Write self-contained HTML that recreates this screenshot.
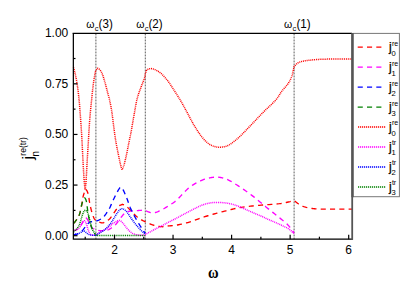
<!DOCTYPE html>
<html><head><meta charset="utf-8"><title>plot</title>
<style>html,body{margin:0;padding:0;background:#fff;width:409px;height:287px;overflow:hidden}body{position:relative;font-family:"Liberation Sans",sans-serif}</style>
</head><body>
<svg width="409" height="287" viewBox="0 0 409 287" style="display:block;position:absolute;left:0;top:0" font-family="'Liberation Sans', sans-serif">
<rect width="409" height="287" fill="#fff"/>
<line x1="95.9" y1="33.5" x2="95.9" y2="239.2" stroke="#333" stroke-width="0.8" stroke-dasharray="1.9 1.1"/>
<line x1="145.3" y1="33.5" x2="145.3" y2="239.2" stroke="#333" stroke-width="0.8" stroke-dasharray="1.9 1.1"/>
<line x1="294.1" y1="33.5" x2="294.1" y2="239.2" stroke="#333" stroke-width="0.8" stroke-dasharray="1.9 1.1"/>
<path d="M73.50 223.00 L73.65 222.92 L73.78 222.90 L73.89 222.90 L74.01 222.89 L74.16 222.84 L74.34 222.69 L74.58 222.43 L74.90 222.00 L75.32 221.40 L75.84 220.66 L76.42 219.81 L77.04 218.86 L77.67 217.85 L78.28 216.81 L78.83 215.75 L79.30 214.70 L79.69 213.64 L80.04 212.54 L80.35 211.39 L80.62 210.22 L80.88 209.04 L81.12 207.85 L81.36 206.67 L81.60 205.50 L81.83 204.33 L82.03 203.13 L82.22 201.93 L82.39 200.72 L82.57 199.54 L82.76 198.38 L82.97 197.26 L83.20 196.20 L83.46 195.20 L83.74 194.25 L84.04 193.35 L84.35 192.47 L84.66 191.61 L84.98 190.75 L85.29 189.89 L85.60 189.00 L85.80 189.27 L86.00 189.53 L86.21 189.77 L86.41 190.02 L86.61 190.28 L86.81 190.58 L87.01 190.91 L87.20 191.30 L87.39 191.73 L87.57 192.20 L87.76 192.69 L87.94 193.22 L88.11 193.78 L88.28 194.38 L88.45 195.02 L88.60 195.70 L88.74 196.42 L88.85 197.18 L88.96 197.99 L89.06 198.82 L89.17 199.70 L89.29 200.60 L89.43 201.54 L89.60 202.50 L89.80 203.52 L90.02 204.61 L90.26 205.74 L90.51 206.90 L90.78 208.06 L91.05 209.19 L91.32 210.28 L91.60 211.30 L91.88 212.28 L92.18 213.24 L92.49 214.19 L92.80 215.10 L93.11 215.96 L93.42 216.76 L93.72 217.47 L94.00 218.10 L94.27 218.62 L94.53 219.04 L94.77 219.37 L95.02 219.65 L95.26 219.88 L95.50 220.09 L95.75 220.29 L96.00 220.50 L96.24 220.71 L96.47 220.88 L96.68 221.04 L96.91 221.18 L97.15 221.30 L97.42 221.43 L97.73 221.56 L98.10 221.70 L98.54 221.87 L99.04 222.06 L99.58 222.26 L100.16 222.46 L100.74 222.64 L101.32 222.78 L101.88 222.87 L102.40 222.90 L102.88 222.86 L103.33 222.78 L103.77 222.66 L104.19 222.49 L104.62 222.29 L105.06 222.06 L105.52 221.79 L106.00 221.50 L106.50 221.19 L107.02 220.88 L107.54 220.54 L108.08 220.16 L108.63 219.73 L109.20 219.24 L109.79 218.67 L110.40 218.00 L111.05 217.19 L111.75 216.22 L112.49 215.15 L113.23 214.03 L113.96 212.90 L114.67 211.82 L115.32 210.84 L115.90 210.00 L116.40 209.29 L116.83 208.66 L117.22 208.11 L117.57 207.61 L117.91 207.16 L118.25 206.74 L118.60 206.36 L119.00 206.00 L119.43 205.68 L119.86 205.41 L120.31 205.19 L120.77 205.01 L121.23 204.84 L121.69 204.67 L122.15 204.50 L122.60 204.30 L123.02 204.50 L123.44 204.68 L123.85 204.85 L124.26 205.02 L124.68 205.21 L125.11 205.43 L125.55 205.69 L126.00 206.00 L126.46 206.36 L126.91 206.75 L127.37 207.17 L127.84 207.62 L128.33 208.11 L128.85 208.63 L129.40 209.20 L130.00 209.80 L130.66 210.48 L131.39 211.24 L132.15 212.07 L132.94 212.92 L133.74 213.77 L134.53 214.58 L135.29 215.34 L136.00 216.00 L136.67 216.57 L137.31 217.09 L137.94 217.56 L138.55 217.99 L139.15 218.39 L139.74 218.77 L140.32 219.14 L140.90 219.50 L141.45 219.84 L141.96 220.14 L142.44 220.41 L142.92 220.67 L143.42 220.92 L143.97 221.19 L144.59 221.48 L145.30 221.80 L146.11 222.17 L146.99 222.57 L147.94 223.00 L148.94 223.44 L149.97 223.87 L151.01 224.28 L152.06 224.67 L153.10 225.00 L154.15 225.30 L155.25 225.59 L156.38 225.85 L157.51 226.09 L158.62 226.30 L159.71 226.48 L160.74 226.61 L161.70 226.70 L162.56 226.73 L163.32 226.70 L164.03 226.63 L164.70 226.52 L165.38 226.39 L166.10 226.25 L166.90 226.12 L167.80 226.00 L168.80 225.90 L169.85 225.82 L170.96 225.73 L172.12 225.64 L173.32 225.53 L174.58 225.39 L175.87 225.22 L177.20 225.00 L178.59 224.74 L180.05 224.44 L181.57 224.12 L183.12 223.76 L184.69 223.38 L186.28 222.97 L187.85 222.55 L189.40 222.10 L190.93 221.62 L192.47 221.09 L194.01 220.53 L195.55 219.95 L197.09 219.36 L198.63 218.79 L200.17 218.23 L201.70 217.70 L203.23 217.20 L204.76 216.71 L206.28 216.24 L207.81 215.77 L209.33 215.32 L210.85 214.87 L212.38 214.43 L213.90 214.00 L215.43 213.57 L216.95 213.16 L218.47 212.75 L220.00 212.35 L221.53 211.96 L223.05 211.57 L224.58 211.18 L226.10 210.80 L227.62 210.41 L229.15 210.03 L230.67 209.64 L232.19 209.26 L233.72 208.89 L235.24 208.53 L236.77 208.20 L238.30 207.90 L239.83 207.63 L241.37 207.38 L242.91 207.15 L244.45 206.94 L245.99 206.75 L247.53 206.56 L249.07 206.38 L250.60 206.20 L252.10 206.03 L253.55 205.87 L254.99 205.72 L256.43 205.57 L257.91 205.44 L259.44 205.30 L261.07 205.15 L262.80 205.00 L264.71 204.85 L266.80 204.70 L269.00 204.55 L271.25 204.39 L273.48 204.24 L275.63 204.07 L277.62 203.89 L279.40 203.70 L280.98 203.49 L282.44 203.25 L283.79 203.00 L285.03 202.74 L286.18 202.49 L287.25 202.24 L288.26 202.01 L289.20 201.80 L290.05 201.62 L290.77 201.45 L291.40 201.30 L291.96 201.16 L292.48 201.02 L292.99 200.88 L293.52 200.75 L294.10 200.60 L294.71 201.06 L295.33 201.53 L295.94 202.00 L296.55 202.47 L297.16 202.93 L297.78 203.38 L298.39 203.80 L299.00 204.20 L299.60 204.57 L300.17 204.92 L300.73 205.25 L301.30 205.57 L301.89 205.87 L302.51 206.16 L303.17 206.43 L303.90 206.70 L304.68 206.96 L305.50 207.20 L306.35 207.44 L307.24 207.66 L308.17 207.87 L309.14 208.06 L310.15 208.24 L311.20 208.40 L312.28 208.54 L313.38 208.66 L314.51 208.77 L315.68 208.86 L316.91 208.93 L318.20 209.00 L319.56 209.05 L321.00 209.10 L322.53 209.13 L324.13 209.15 L325.81 209.15 L327.55 209.14 L329.35 209.13 L331.19 209.12 L333.08 209.10 L335.00 209.10 L336.98 209.10 L339.04 209.10 L341.16 209.10 L343.31 209.10 L345.49 209.10 L347.68 209.10 L349.85 209.10 L352.00 209.10" fill="none" stroke="#ff0000" stroke-dasharray="5.1 4.2" stroke-width="1.35"/>
<path d="M73.50 230.40 L73.81 230.36 L74.11 230.34 L74.42 230.32 L74.72 230.30 L75.03 230.27 L75.34 230.21 L75.66 230.13 L76.00 230.00 L76.35 229.84 L76.71 229.67 L77.09 229.48 L77.47 229.26 L77.85 229.00 L78.24 228.71 L78.62 228.38 L79.00 228.00 L79.38 227.55 L79.77 227.04 L80.17 226.47 L80.56 225.88 L80.95 225.26 L81.32 224.65 L81.67 224.06 L82.00 223.50 L82.30 222.96 L82.58 222.41 L82.84 221.86 L83.08 221.32 L83.32 220.80 L83.54 220.32 L83.77 219.88 L84.00 219.50 L84.23 219.16 L84.44 218.86 L84.66 218.58 L84.86 218.35 L85.07 218.16 L85.28 218.02 L85.48 217.93 L85.70 217.90 L85.92 217.93 L86.14 218.02 L86.36 218.16 L86.58 218.35 L86.81 218.58 L87.03 218.86 L87.26 219.16 L87.50 219.50 L87.74 219.89 L87.97 220.33 L88.21 220.82 L88.46 221.35 L88.70 221.89 L88.96 222.44 L89.22 222.98 L89.50 223.50 L89.79 224.01 L90.08 224.55 L90.38 225.09 L90.69 225.62 L91.00 226.15 L91.33 226.64 L91.66 227.10 L92.00 227.50 L92.36 227.86 L92.74 228.18 L93.13 228.47 L93.53 228.73 L93.93 228.96 L94.31 229.17 L94.67 229.35 L95.00 229.50 L95.30 229.62 L95.56 229.68 L95.81 229.72 L96.04 229.72 L96.26 229.73 L96.50 229.73 L96.74 229.75 L97.00 229.80 L97.27 229.88 L97.53 229.98 L97.79 230.10 L98.06 230.22 L98.34 230.34 L98.66 230.44 L99.01 230.53 L99.40 230.60 L99.85 230.64 L100.37 230.66 L100.93 230.67 L101.51 230.66 L102.09 230.65 L102.66 230.63 L103.21 230.62 L103.70 230.60 L104.14 230.59 L104.56 230.60 L104.95 230.60 L105.32 230.60 L105.68 230.59 L106.05 230.55 L106.42 230.49 L106.80 230.40 L107.19 230.28 L107.57 230.13 L107.95 229.96 L108.34 229.76 L108.73 229.55 L109.13 229.32 L109.56 229.07 L110.00 228.80 L110.47 228.51 L110.98 228.21 L111.50 227.88 L112.04 227.53 L112.57 227.17 L113.10 226.79 L113.61 226.40 L114.10 226.00 L114.56 225.58 L115.02 225.14 L115.46 224.68 L115.89 224.21 L116.31 223.73 L116.72 223.25 L117.11 222.77 L117.50 222.30 L117.87 221.84 L118.22 221.37 L118.56 220.91 L118.89 220.44 L119.21 219.98 L119.53 219.52 L119.86 219.06 L120.20 218.60 L120.54 218.14 L120.88 217.68 L121.22 217.22 L121.56 216.76 L121.91 216.30 L122.26 215.86 L122.63 215.42 L123.00 215.00 L123.39 214.58 L123.78 214.16 L124.18 213.73 L124.59 213.32 L125.01 212.94 L125.44 212.58 L125.86 212.27 L126.30 212.00 L126.73 211.79 L127.15 211.64 L127.58 211.52 L128.01 211.44 L128.46 211.37 L128.94 211.32 L129.45 211.27 L130.00 211.20 L130.61 211.13 L131.27 211.07 L131.97 211.02 L132.70 210.97 L133.43 210.93 L134.15 210.89 L134.85 210.85 L135.50 210.80 L136.11 210.75 L136.69 210.69 L137.26 210.64 L137.81 210.58 L138.35 210.53 L138.89 210.48 L139.44 210.44 L140.00 210.40 L140.58 210.36 L141.17 210.32 L141.77 210.27 L142.37 210.24 L142.96 210.21 L143.53 210.21 L144.08 210.24 L144.60 210.30 L145.08 210.40 L145.52 210.55 L145.94 210.72 L146.34 210.92 L146.73 211.12 L147.14 211.33 L147.55 211.52 L148.00 211.70 L148.47 211.87 L148.96 212.06 L149.46 212.24 L149.96 212.43 L150.47 212.59 L150.99 212.73 L151.50 212.84 L152.00 212.90 L152.49 212.92 L152.95 212.92 L153.41 212.89 L153.88 212.84 L154.35 212.75 L154.86 212.63 L155.40 212.48 L156.00 212.30 L156.65 212.08 L157.33 211.83 L158.05 211.55 L158.79 211.24 L159.57 210.89 L160.36 210.52 L161.17 210.12 L162.00 209.70 L162.85 209.24 L163.73 208.75 L164.64 208.22 L165.56 207.66 L166.50 207.09 L167.44 206.50 L168.37 205.90 L169.30 205.30 L170.18 204.74 L171.02 204.23 L171.83 203.74 L172.66 203.22 L173.53 202.63 L174.48 201.95 L175.52 201.11 L176.70 200.10 L178.04 198.83 L179.51 197.32 L181.09 195.64 L182.74 193.87 L184.43 192.08 L186.13 190.36 L187.80 188.77 L189.40 187.40 L190.99 186.21 L192.62 185.12 L194.26 184.12 L195.89 183.20 L197.47 182.36 L198.99 181.61 L200.40 180.92 L201.70 180.30 L202.85 179.77 L203.88 179.35 L204.80 179.02 L205.66 178.76 L206.48 178.55 L207.29 178.36 L208.12 178.19 L209.00 178.00 L209.92 177.81 L210.84 177.63 L211.76 177.48 L212.69 177.35 L213.61 177.24 L214.52 177.17 L215.42 177.12 L216.30 177.10 L217.17 177.12 L218.03 177.17 L218.89 177.24 L219.73 177.35 L220.57 177.48 L221.39 177.63 L222.20 177.81 L223.00 178.00 L223.76 178.20 L224.47 178.40 L225.16 178.61 L225.84 178.86 L226.54 179.13 L227.28 179.46 L228.10 179.85 L229.00 180.30 L229.98 180.82 L231.02 181.40 L232.11 182.03 L233.26 182.71 L234.45 183.44 L235.69 184.22 L236.97 185.04 L238.30 185.90 L239.69 186.81 L241.17 187.79 L242.70 188.82 L244.27 189.89 L245.86 190.99 L247.46 192.12 L249.05 193.26 L250.60 194.40 L252.18 195.60 L253.84 196.90 L255.53 198.25 L257.19 199.60 L258.80 200.91 L260.30 202.15 L261.65 203.26 L262.80 204.20 L263.67 204.91 L264.27 205.41 L264.68 205.77 L265.00 206.05 L265.32 206.33 L265.73 206.69 L266.33 207.19 L267.20 207.90 L268.38 208.86 L269.81 210.01 L271.41 211.29 L273.11 212.65 L274.83 214.03 L276.50 215.37 L278.05 216.61 L279.40 217.70 L280.56 218.63 L281.62 219.46 L282.58 220.21 L283.48 220.91 L284.33 221.59 L285.15 222.28 L285.97 223.01 L286.80 223.80 L287.66 224.69 L288.53 225.66 L289.40 226.66 L290.24 227.68 L291.03 228.67 L291.75 229.59 L292.38 230.41 L292.90 231.10 L293.28 231.63 L293.54 232.04 L293.71 232.36 L293.81 232.61 L293.87 232.82 L293.91 233.01 L293.98 233.23 L294.10 233.50" fill="none" stroke="#ff00ff" stroke-dasharray="5.1 4.2" stroke-width="1.35"/>
<path d="M73.50 234.60 L73.81 234.58 L74.10 234.58 L74.39 234.58 L74.69 234.57 L74.99 234.56 L75.30 234.53 L75.64 234.48 L76.00 234.40 L76.39 234.29 L76.81 234.17 L77.25 234.02 L77.71 233.86 L78.17 233.68 L78.62 233.48 L79.07 233.25 L79.50 233.00 L79.92 232.72 L80.34 232.40 L80.76 232.06 L81.18 231.69 L81.58 231.32 L81.97 230.94 L82.35 230.56 L82.70 230.20 L83.03 229.85 L83.32 229.50 L83.59 229.16 L83.86 228.81 L84.12 228.46 L84.39 228.09 L84.68 227.71 L85.00 227.30 L85.35 226.85 L85.72 226.36 L86.11 225.85 L86.51 225.32 L86.92 224.81 L87.32 224.32 L87.72 223.88 L88.10 223.50 L88.45 223.18 L88.78 222.91 L89.09 222.67 L89.40 222.47 L89.73 222.29 L90.10 222.12 L90.51 221.96 L91.00 221.80 L91.58 221.65 L92.24 221.53 L92.96 221.43 L93.71 221.33 L94.47 221.24 L95.20 221.14 L95.89 221.03 L96.50 220.90 L97.03 220.76 L97.51 220.62 L97.95 220.47 L98.36 220.32 L98.75 220.15 L99.15 219.96 L99.56 219.75 L100.00 219.50 L100.45 219.25 L100.89 219.02 L101.33 218.78 L101.78 218.51 L102.24 218.19 L102.73 217.79 L103.25 217.30 L103.80 216.70 L104.41 215.96 L105.08 215.08 L105.79 214.11 L106.51 213.07 L107.24 211.99 L107.94 210.89 L108.60 209.82 L109.20 208.80 L109.73 207.82 L110.21 206.84 L110.65 205.87 L111.07 204.89 L111.48 203.91 L111.89 202.92 L112.33 201.92 L112.80 200.90 L113.32 199.82 L113.88 198.68 L114.47 197.49 L115.06 196.31 L115.63 195.17 L116.18 194.09 L116.67 193.13 L117.10 192.30 L117.46 191.62 L117.75 191.07 L118.01 190.61 L118.22 190.23 L118.42 189.89 L118.61 189.60 L118.80 189.30 L119.00 189.00 L119.21 188.69 L119.40 188.38 L119.59 188.10 L119.78 187.84 L119.96 187.62 L120.13 187.43 L120.32 187.29 L120.50 187.20 L120.69 187.17 L120.88 187.19 L121.08 187.26 L121.27 187.37 L121.46 187.51 L121.65 187.66 L121.83 187.83 L122.00 188.00 L122.15 188.14 L122.26 188.24 L122.36 188.34 L122.46 188.47 L122.58 188.66 L122.73 188.94 L122.93 189.34 L123.20 189.90 L123.54 190.64 L123.96 191.54 L124.42 192.56 L124.91 193.68 L125.42 194.86 L125.94 196.06 L126.43 197.25 L126.90 198.40 L127.34 199.54 L127.76 200.72 L128.18 201.93 L128.59 203.14 L129.00 204.35 L129.42 205.54 L129.85 206.70 L130.30 207.80 L130.76 208.85 L131.22 209.85 L131.68 210.81 L132.16 211.76 L132.64 212.69 L133.14 213.64 L133.66 214.60 L134.20 215.60 L134.77 216.64 L135.37 217.72 L135.99 218.82 L136.62 219.92 L137.26 221.01 L137.89 222.09 L138.51 223.12 L139.10 224.10 L139.68 225.05 L140.27 226.00 L140.86 226.92 L141.44 227.81 L141.99 228.66 L142.51 229.45 L142.98 230.17 L143.40 230.80 L143.75 231.33 L144.04 231.76 L144.29 232.11 L144.50 232.40 L144.69 232.66 L144.88 232.92 L145.08 233.19 L145.30 233.50" fill="none" stroke="#0000ff" stroke-dasharray="5.1 4.2" stroke-width="1.35"/>
<path d="M73.50 223.00 L73.65 222.92 L73.78 222.90 L73.89 222.90 L74.01 222.89 L74.16 222.84 L74.34 222.69 L74.58 222.43 L74.90 222.00 L75.32 221.40 L75.84 220.66 L76.43 219.81 L77.05 218.86 L77.68 217.85 L78.28 216.81 L78.83 215.75 L79.30 214.70 L79.69 213.61 L80.02 212.44 L80.32 211.20 L80.58 209.96 L80.82 208.73 L81.05 207.55 L81.27 206.46 L81.50 205.50 L81.72 204.66 L81.92 203.90 L82.11 203.21 L82.29 202.59 L82.47 202.01 L82.64 201.48 L82.82 200.98 L83.00 200.50 L83.19 200.03 L83.38 199.57 L83.56 199.14 L83.75 198.76 L83.94 198.43 L84.12 198.16 L84.31 197.98 L84.50 197.90 L84.69 197.92 L84.89 198.04 L85.09 198.24 L85.29 198.51 L85.48 198.83 L85.67 199.20 L85.84 199.59 L86.00 200.00 L86.14 200.42 L86.26 200.85 L86.37 201.31 L86.47 201.81 L86.57 202.36 L86.67 202.99 L86.78 203.70 L86.90 204.50 L87.03 205.44 L87.17 206.51 L87.31 207.69 L87.46 208.93 L87.61 210.18 L87.77 211.42 L87.93 212.61 L88.10 213.70 L88.27 214.72 L88.46 215.72 L88.64 216.70 L88.84 217.64 L89.03 218.55 L89.22 219.42 L89.42 220.23 L89.60 221.00 L89.78 221.69 L89.94 222.30 L90.11 222.85 L90.27 223.36 L90.44 223.86 L90.61 224.37 L90.80 224.91 L91.00 225.50 L91.22 226.15 L91.45 226.85 L91.68 227.58 L91.93 228.31 L92.19 229.04 L92.45 229.74 L92.72 230.40 L93.00 231.00 L93.30 231.55 L93.64 232.09 L93.99 232.59 L94.34 233.06 L94.69 233.50 L95.00 233.88 L95.28 234.22 L95.50 234.50 L95.66 234.71 L95.77 234.84 L95.83 234.91 L95.88 234.94 L95.90 234.94 L95.92 234.95 L95.95 234.96 L96.00 235.00" fill="none" stroke="#008000" stroke-dasharray="5.1 4.2" stroke-width="1.35"/>
<path d="M73.50 67.20 L73.68 67.88 L73.86 68.50 L74.03 69.10 L74.20 69.71 L74.38 70.37 L74.57 71.11 L74.77 71.98 L75.00 73.00 L75.25 74.18 L75.53 75.49 L75.83 76.91 L76.13 78.42 L76.44 80.01 L76.74 81.64 L77.03 83.31 L77.30 85.00 L77.55 86.73 L77.80 88.54 L78.04 90.41 L78.27 92.31 L78.49 94.24 L78.70 96.18 L78.91 98.10 L79.10 100.00 L79.28 101.88 L79.45 103.77 L79.60 105.67 L79.75 107.56 L79.89 109.45 L80.03 111.32 L80.16 113.17 L80.30 115.00 L80.44 116.81 L80.57 118.62 L80.70 120.41 L80.83 122.19 L80.96 123.94 L81.08 125.66 L81.19 127.35 L81.30 129.00 L81.40 130.55 L81.49 132.00 L81.58 133.38 L81.66 134.75 L81.74 136.15 L81.82 137.62 L81.90 139.23 L82.00 141.00 L82.10 142.96 L82.21 145.08 L82.32 147.31 L82.43 149.62 L82.55 151.99 L82.66 154.36 L82.78 156.71 L82.90 159.00 L83.02 161.29 L83.14 163.62 L83.26 165.98 L83.39 168.33 L83.51 170.63 L83.64 172.87 L83.77 175.00 L83.90 177.00 L84.03 178.85 L84.17 180.57 L84.31 182.18 L84.44 183.72 L84.58 185.23 L84.72 186.72 L84.86 188.24 L85.00 189.80 L85.12 188.93 L85.24 188.21 L85.36 187.54 L85.48 186.85 L85.60 186.04 L85.73 185.02 L85.86 183.70 L86.00 182.00 L86.15 179.82 L86.31 177.20 L86.47 174.27 L86.64 171.14 L86.81 167.93 L86.98 164.75 L87.15 161.74 L87.30 159.00 L87.45 156.47 L87.60 154.01 L87.74 151.62 L87.89 149.31 L88.03 147.09 L88.16 144.96 L88.28 142.93 L88.40 141.00 L88.50 139.23 L88.60 137.62 L88.68 136.15 L88.76 134.75 L88.83 133.38 L88.91 132.00 L89.00 130.55 L89.10 129.00 L89.21 127.35 L89.32 125.66 L89.43 123.94 L89.55 122.19 L89.68 120.41 L89.81 118.62 L89.95 116.81 L90.10 115.00 L90.26 113.17 L90.44 111.32 L90.62 109.45 L90.81 107.56 L91.01 105.67 L91.21 103.77 L91.40 101.88 L91.60 100.00 L91.79 98.11 L91.98 96.18 L92.18 94.25 L92.37 92.33 L92.57 90.42 L92.77 88.55 L92.98 86.74 L93.20 85.00 L93.44 83.27 L93.70 81.53 L93.97 79.79 L94.25 78.12 L94.52 76.54 L94.78 75.10 L95.00 73.84 L95.20 72.80 L95.36 72.02 L95.48 71.49 L95.59 71.15 L95.68 70.94 L95.75 70.81 L95.83 70.70 L95.91 70.55 L96.00 70.30 L96.25 70.02 L96.49 69.68 L96.72 69.31 L96.95 68.96 L97.20 68.65 L97.46 68.43 L97.76 68.34 L98.10 68.40 L98.49 68.61 L98.92 68.93 L99.39 69.35 L99.88 69.87 L100.38 70.48 L100.87 71.17 L101.35 71.95 L101.80 72.80 L102.23 73.76 L102.64 74.84 L103.05 76.03 L103.45 77.29 L103.84 78.60 L104.23 79.94 L104.62 81.28 L105.00 82.60 L105.39 83.95 L105.77 85.37 L106.16 86.84 L106.54 88.31 L106.91 89.76 L107.27 91.15 L107.60 92.44 L107.90 93.60 L108.17 94.58 L108.40 95.40 L108.60 96.10 L108.79 96.76 L108.98 97.41 L109.17 98.14 L109.37 98.98 L109.60 100.00 L109.85 101.20 L110.13 102.52 L110.41 103.93 L110.70 105.43 L110.99 106.97 L111.27 108.55 L111.55 110.13 L111.80 111.70 L112.03 113.27 L112.25 114.85 L112.46 116.46 L112.66 118.09 L112.86 119.74 L113.06 121.43 L113.27 123.15 L113.50 124.90 L113.74 126.70 L113.98 128.55 L114.23 130.44 L114.48 132.36 L114.74 134.28 L115.02 136.21 L115.30 138.12 L115.60 140.00 L115.92 141.89 L116.26 143.81 L116.63 145.74 L116.99 147.66 L117.36 149.53 L117.73 151.35 L118.07 153.08 L118.40 154.70 L118.71 156.23 L119.01 157.69 L119.30 159.09 L119.58 160.41 L119.85 161.66 L120.11 162.83 L120.36 163.91 L120.60 164.90 L120.82 165.77 L121.02 166.50 L121.21 167.13 L121.39 167.68 L121.57 168.20 L121.74 168.70 L121.92 169.22 L122.10 169.80 L122.33 169.22 L122.56 168.70 L122.79 168.20 L123.01 167.68 L123.24 167.13 L123.48 166.50 L123.73 165.77 L124.00 164.90 L124.28 163.90 L124.58 162.80 L124.88 161.62 L125.20 160.35 L125.52 159.01 L125.85 157.62 L126.17 156.18 L126.50 154.70 L126.83 153.12 L127.18 151.42 L127.53 149.62 L127.89 147.79 L128.24 145.96 L128.58 144.19 L128.90 142.52 L129.20 141.00 L129.47 139.69 L129.71 138.57 L129.92 137.57 L130.13 136.61 L130.34 135.63 L130.57 134.55 L130.82 133.30 L131.10 131.80 L131.42 130.03 L131.77 128.06 L132.14 125.93 L132.52 123.69 L132.92 121.39 L133.32 119.10 L133.71 116.85 L134.10 114.70 L134.48 112.60 L134.85 110.46 L135.23 108.33 L135.61 106.22 L135.99 104.15 L136.38 102.16 L136.78 100.27 L137.20 98.50 L137.63 96.87 L138.08 95.36 L138.54 93.94 L139.01 92.60 L139.49 91.31 L139.96 90.04 L140.43 88.78 L140.90 87.50 L141.38 86.18 L141.90 84.83 L142.42 83.49 L142.94 82.18 L143.43 80.91 L143.89 79.73 L144.28 78.65 L144.60 77.70 L144.83 76.91 L144.99 76.26 L145.08 75.71 L145.14 75.25 L145.17 74.83 L145.20 74.42 L145.23 73.99 L145.30 73.50 L145.50 73.03 L145.68 72.55 L145.85 72.05 L146.03 71.56 L146.22 71.08 L146.43 70.64 L146.69 70.24 L147.00 69.90 L147.36 69.61 L147.76 69.35 L148.19 69.13 L148.65 68.94 L149.14 68.80 L149.64 68.69 L150.17 68.62 L150.70 68.60 L151.25 68.62 L151.81 68.68 L152.40 68.77 L153.00 68.91 L153.62 69.09 L154.26 69.32 L154.92 69.59 L155.60 69.90 L156.31 70.26 L157.04 70.66 L157.80 71.11 L158.57 71.60 L159.36 72.13 L160.15 72.71 L160.93 73.33 L161.70 74.00 L162.47 74.73 L163.26 75.54 L164.06 76.40 L164.85 77.29 L165.63 78.21 L166.39 79.13 L167.11 80.03 L167.80 80.90 L168.42 81.70 L168.96 82.43 L169.46 83.14 L169.94 83.85 L170.43 84.61 L170.97 85.44 L171.59 86.39 L172.30 87.50 L173.13 88.78 L174.06 90.22 L175.06 91.77 L176.11 93.40 L177.17 95.08 L178.22 96.76 L179.24 98.41 L180.20 100.00 L181.10 101.53 L181.97 103.04 L182.81 104.54 L183.64 106.04 L184.46 107.54 L185.29 109.07 L186.13 110.61 L187.00 112.20 L187.89 113.84 L188.79 115.54 L189.70 117.28 L190.61 119.03 L191.53 120.76 L192.46 122.47 L193.38 124.12 L194.30 125.70 L195.22 127.22 L196.15 128.71 L197.07 130.17 L198.00 131.59 L198.93 132.96 L199.85 134.27 L200.78 135.52 L201.70 136.70 L202.62 137.82 L203.53 138.89 L204.44 139.90 L205.36 140.86 L206.27 141.75 L207.18 142.57 L208.09 143.32 L209.00 144.00 L209.93 144.59 L210.88 145.10 L211.84 145.52 L212.80 145.89 L213.74 146.20 L214.64 146.46 L215.50 146.69 L216.30 146.90 L217.01 147.08 L217.64 147.21 L218.20 147.30 L218.74 147.36 L219.28 147.37 L219.86 147.35 L220.48 147.29 L221.20 147.20 L221.99 147.10 L222.82 146.99 L223.69 146.85 L224.60 146.67 L225.55 146.44 L226.53 146.13 L227.55 145.72 L228.60 145.20 L229.70 144.56 L230.86 143.81 L232.06 142.96 L233.30 142.04 L234.55 141.05 L235.81 140.03 L237.07 138.97 L238.30 137.90 L239.52 136.80 L240.74 135.64 L241.97 134.43 L243.19 133.19 L244.42 131.92 L245.65 130.64 L246.87 129.37 L248.10 128.10 L249.34 126.82 L250.61 125.49 L251.89 124.14 L253.17 122.79 L254.42 121.46 L255.64 120.18 L256.80 118.95 L257.90 117.80 L258.89 116.77 L259.78 115.84 L260.60 114.98 L261.39 114.16 L262.19 113.34 L263.03 112.48 L263.95 111.55 L265.00 110.50 L266.21 109.33 L267.55 108.06 L268.99 106.73 L270.46 105.35 L271.93 103.96 L273.34 102.59 L274.65 101.26 L275.80 100.00 L276.79 98.80 L277.66 97.62 L278.43 96.47 L279.14 95.35 L279.82 94.25 L280.49 93.17 L281.17 92.13 L281.90 91.10 L282.68 90.11 L283.48 89.16 L284.29 88.25 L285.10 87.35 L285.89 86.47 L286.64 85.59 L287.35 84.70 L288.00 83.80 L288.59 82.90 L289.12 82.03 L289.62 81.17 L290.08 80.31 L290.51 79.42 L290.92 78.50 L291.32 77.53 L291.70 76.50 L292.06 75.39 L292.39 74.23 L292.70 73.01 L292.98 71.76 L293.26 70.48 L293.53 69.21 L293.81 67.94 L294.10 66.70 L294.55 66.23 L294.97 65.74 L295.38 65.24 L295.80 64.74 L296.24 64.26 L296.71 63.81 L297.22 63.38 L297.80 63.00 L298.41 62.66 L299.01 62.37 L299.64 62.10 L300.32 61.86 L301.06 61.63 L301.89 61.42 L302.83 61.21 L303.90 61.00 L305.13 60.79 L306.52 60.59 L308.03 60.39 L309.62 60.21 L311.26 60.03 L312.91 59.87 L314.53 59.73 L316.10 59.60 L317.63 59.49 L319.16 59.40 L320.70 59.32 L322.23 59.26 L323.76 59.21 L325.29 59.17 L326.80 59.13 L328.30 59.10 L329.78 59.08 L331.25 59.06 L332.71 59.06 L334.16 59.07 L335.61 59.08 L337.07 59.09 L338.53 59.10 L340.00 59.10 L341.49 59.10 L342.98 59.10 L344.48 59.10 L345.98 59.10 L347.49 59.10 L348.99 59.10 L350.50 59.10 L352.00 59.10" fill="none" stroke="#ff0000" stroke-dasharray="1.0 0.875" stroke-width="1.5"/>
<path d="M73.50 230.40 L73.79 230.39 L74.08 230.40 L74.36 230.43 L74.64 230.44 L74.93 230.44 L75.23 230.41 L75.55 230.34 L75.90 230.20 L76.28 230.01 L76.70 229.77 L77.14 229.49 L77.59 229.18 L78.05 228.84 L78.49 228.48 L78.91 228.10 L79.30 227.70 L79.66 227.27 L80.01 226.78 L80.35 226.27 L80.67 225.73 L80.98 225.20 L81.27 224.69 L81.54 224.22 L81.80 223.80 L82.04 223.43 L82.25 223.10 L82.45 222.79 L82.63 222.51 L82.80 222.26 L82.97 222.02 L83.13 221.80 L83.30 221.60 L83.47 221.41 L83.62 221.23 L83.78 221.07 L83.92 220.93 L84.07 220.82 L84.21 220.74 L84.36 220.70 L84.50 220.70 L84.64 220.75 L84.78 220.84 L84.92 220.96 L85.06 221.12 L85.19 221.31 L85.33 221.52 L85.46 221.75 L85.60 222.00 L85.74 222.26 L85.87 222.55 L86.00 222.85 L86.13 223.18 L86.27 223.53 L86.40 223.92 L86.55 224.34 L86.70 224.80 L86.86 225.32 L87.03 225.91 L87.20 226.55 L87.38 227.21 L87.55 227.88 L87.74 228.53 L87.92 229.14 L88.10 229.70 L88.28 230.21 L88.47 230.70 L88.66 231.16 L88.84 231.60 L89.03 232.02 L89.22 232.40 L89.41 232.77 L89.60 233.10 L89.78 233.40 L89.95 233.68 L90.12 233.92 L90.29 234.14 L90.47 234.33 L90.66 234.51 L90.87 234.66 L91.10 234.80 L91.36 234.92 L91.63 235.01 L91.93 235.07 L92.24 235.12 L92.55 235.15 L92.87 235.17 L93.19 235.19 L93.50 235.20 L93.81 235.20 L94.12 235.19 L94.43 235.17 L94.74 235.14 L95.06 235.10 L95.37 235.06 L95.69 235.03 L96.00 235.00 L96.49 234.67 L96.95 234.34 L97.41 234.01 L97.87 233.69 L98.35 233.36 L98.85 233.02 L99.40 232.67 L100.00 232.30 L100.66 231.93 L101.38 231.55 L102.13 231.18 L102.92 230.79 L103.72 230.38 L104.53 229.95 L105.32 229.49 L106.10 229.00 L106.88 228.45 L107.68 227.83 L108.49 227.17 L109.30 226.49 L110.09 225.82 L110.84 225.19 L111.55 224.60 L112.20 224.10 L112.78 223.67 L113.29 223.30 L113.76 222.97 L114.20 222.67 L114.62 222.41 L115.03 222.16 L115.45 221.93 L115.90 221.70 L116.36 221.45 L116.83 221.19 L117.29 220.94 L117.76 220.71 L118.22 220.52 L118.68 220.39 L119.14 220.34 L119.60 220.40 L120.05 220.56 L120.49 220.81 L120.93 221.13 L121.36 221.53 L121.80 221.97 L122.25 222.45 L122.72 222.97 L123.20 223.50 L123.70 224.08 L124.21 224.73 L124.73 225.44 L125.27 226.18 L125.81 226.92 L126.37 227.65 L126.93 228.35 L127.50 229.00 L128.08 229.61 L128.67 230.22 L129.27 230.82 L129.88 231.39 L130.49 231.94 L131.12 232.44 L131.75 232.90 L132.40 233.30 L133.07 233.64 L133.77 233.92 L134.48 234.15 L135.20 234.35 L135.91 234.51 L136.61 234.65 L137.28 234.78 L137.90 234.90 L138.48 235.00 L139.04 235.08 L139.58 235.14 L140.09 235.18 L140.58 235.20 L141.06 235.20 L141.54 235.20 L142.00 235.20 L142.45 235.18 L142.88 235.15 L143.30 235.10 L143.70 235.04 L144.10 234.98 L144.49 234.92 L144.89 234.85 L145.30 234.80 L146.26 233.97 L147.22 233.45 L148.17 232.92 L149.13 232.39 L150.09 231.87 L151.05 231.34 L152.02 230.82 L153.00 230.30 L153.98 229.78 L154.97 229.28 L155.96 228.77 L156.96 228.26 L157.96 227.76 L158.97 227.24 L159.98 226.73 L161.00 226.20 L162.03 225.66 L163.06 225.11 L164.11 224.55 L165.16 223.99 L166.20 223.43 L167.25 222.88 L168.28 222.33 L169.30 221.80 L170.28 221.30 L171.20 220.83 L172.10 220.38 L173.01 219.93 L173.94 219.47 L174.93 218.97 L176.01 218.42 L177.20 217.80 L178.52 217.10 L179.95 216.34 L181.46 215.52 L183.02 214.68 L184.63 213.81 L186.24 212.95 L187.84 212.11 L189.40 211.30 L190.96 210.50 L192.56 209.68 L194.18 208.85 L195.79 208.04 L197.38 207.26 L198.90 206.53 L200.35 205.87 L201.70 205.30 L202.93 204.82 L204.06 204.43 L205.12 204.09 L206.12 203.81 L207.09 203.58 L208.04 203.37 L209.00 203.18 L210.00 203.00 L211.00 202.83 L211.96 202.69 L212.91 202.58 L213.86 202.49 L214.82 202.43 L215.82 202.40 L216.88 202.39 L218.00 202.40 L219.21 202.44 L220.49 202.50 L221.82 202.58 L223.19 202.69 L224.58 202.82 L225.95 202.99 L227.30 203.18 L228.60 203.40 L229.84 203.65 L231.03 203.91 L232.19 204.20 L233.34 204.53 L234.51 204.88 L235.71 205.28 L236.97 205.71 L238.30 206.20 L239.71 206.75 L241.19 207.37 L242.73 208.04 L244.29 208.75 L245.88 209.48 L247.47 210.20 L249.05 210.92 L250.60 211.60 L252.18 212.28 L253.84 212.99 L255.53 213.70 L257.19 214.41 L258.80 215.09 L260.30 215.72 L261.65 216.30 L262.80 216.80 L263.67 217.19 L264.27 217.47 L264.68 217.67 L265.00 217.84 L265.32 218.01 L265.73 218.22 L266.33 218.50 L267.20 218.90 L268.37 219.42 L269.76 220.03 L271.31 220.71 L272.96 221.43 L274.66 222.17 L276.34 222.91 L277.94 223.63 L279.40 224.30 L280.78 224.94 L282.15 225.57 L283.49 226.20 L284.79 226.81 L286.03 227.42 L287.19 228.02 L288.25 228.61 L289.20 229.20 L290.01 229.77 L290.68 230.34 L291.25 230.89 L291.74 231.43 L292.19 231.97 L292.63 232.51 L293.09 233.05 L293.60 233.60" fill="none" stroke="#ff00ff" stroke-dasharray="1.0 0.875" stroke-width="1.5"/>
<path d="M73.50 234.60 L74.24 234.41 L75.02 234.23 L75.80 234.04 L76.58 233.86 L77.33 233.67 L78.05 233.48 L78.71 233.29 L79.30 233.10 L79.82 232.90 L80.28 232.68 L80.70 232.46 L81.08 232.24 L81.42 232.03 L81.73 231.83 L82.02 231.65 L82.30 231.50 L82.55 231.36 L82.75 231.24 L82.92 231.12 L83.06 231.02 L83.20 230.95 L83.35 230.90 L83.51 230.88 L83.70 230.90 L83.92 230.96 L84.15 231.05 L84.39 231.18 L84.64 231.34 L84.89 231.51 L85.16 231.70 L85.43 231.90 L85.70 232.10 L85.98 232.32 L86.26 232.57 L86.54 232.84 L86.84 233.11 L87.14 233.39 L87.45 233.65 L87.77 233.89 L88.10 234.10 L88.43 234.28 L88.76 234.44 L89.10 234.59 L89.44 234.72 L89.81 234.83 L90.20 234.94 L90.63 235.02 L91.10 235.10 L91.62 235.16 L92.19 235.19 L92.80 235.20 L93.43 235.21 L94.08 235.20 L94.73 235.20 L95.37 235.19 L96.00 235.20 L96.42 234.94 L96.84 234.68 L97.25 234.43 L97.67 234.17 L98.09 233.91 L98.51 233.65 L98.95 233.38 L99.40 233.10 L99.87 232.81 L100.37 232.52 L100.87 232.22 L101.39 231.91 L101.90 231.61 L102.39 231.30 L102.86 231.00 L103.30 230.70 L103.69 230.43 L104.03 230.19 L104.34 229.97 L104.64 229.74 L104.94 229.49 L105.28 229.20 L105.66 228.84 L106.10 228.40 L106.61 227.88 L107.18 227.31 L107.78 226.68 L108.42 226.00 L109.07 225.28 L109.73 224.52 L110.37 223.72 L111.00 222.90 L111.62 222.01 L112.25 221.03 L112.89 219.99 L113.53 218.92 L114.15 217.86 L114.76 216.83 L115.34 215.87 L115.90 215.00 L116.42 214.21 L116.93 213.46 L117.41 212.75 L117.87 212.08 L118.32 211.47 L118.75 210.91 L119.18 210.42 L119.60 210.00 L120.00 209.64 L120.38 209.35 L120.75 209.11 L121.10 208.93 L121.45 208.81 L121.82 208.75 L122.20 208.75 L122.60 208.80 L123.02 208.91 L123.46 209.08 L123.91 209.31 L124.37 209.59 L124.84 209.94 L125.32 210.34 L125.80 210.79 L126.30 211.30 L126.80 211.89 L127.32 212.56 L127.84 213.30 L128.38 214.09 L128.92 214.91 L129.47 215.75 L130.03 216.58 L130.60 217.40 L131.18 218.22 L131.79 219.06 L132.40 219.92 L133.02 220.79 L133.64 221.65 L134.27 222.50 L134.89 223.32 L135.50 224.10 L136.10 224.85 L136.70 225.59 L137.30 226.30 L137.90 227.00 L138.50 227.68 L139.10 228.34 L139.70 228.98 L140.30 229.60 L140.91 230.19 L141.52 230.76 L142.13 231.30 L142.74 231.83 L143.36 232.34 L143.97 232.85 L144.59 233.37 L145.20 233.90" fill="none" stroke="#0000ff" stroke-dasharray="1.0 0.875" stroke-width="1.5"/>
<path d="M73.50 232.00 L74.08 231.40 L74.67 230.82 L75.28 230.23 L75.88 229.64 L76.47 229.05 L77.02 228.45 L77.54 227.83 L78.00 227.20 L78.40 226.55 L78.76 225.89 L79.08 225.22 L79.37 224.53 L79.64 223.84 L79.89 223.13 L80.14 222.42 L80.40 221.70 L80.66 220.95 L80.90 220.16 L81.13 219.36 L81.36 218.54 L81.57 217.75 L81.79 216.98 L81.99 216.26 L82.20 215.60 L82.40 215.00 L82.59 214.44 L82.78 213.91 L82.96 213.42 L83.14 212.96 L83.33 212.54 L83.51 212.15 L83.70 211.80 L83.90 211.47 L84.09 211.18 L84.29 210.91 L84.49 210.68 L84.70 210.49 L84.90 210.34 L85.10 210.25 L85.30 210.20 L85.50 210.21 L85.70 210.29 L85.91 210.41 L86.11 210.57 L86.31 210.78 L86.51 211.00 L86.71 211.25 L86.90 211.50 L87.08 211.75 L87.25 211.99 L87.42 212.24 L87.58 212.52 L87.75 212.85 L87.92 213.24 L88.10 213.72 L88.30 214.30 L88.52 215.03 L88.76 215.90 L89.02 216.88 L89.28 217.92 L89.54 218.96 L89.78 219.97 L90.01 220.90 L90.20 221.70 L90.36 222.37 L90.48 222.96 L90.59 223.49 L90.68 223.97 L90.77 224.42 L90.86 224.87 L90.97 225.32 L91.10 225.80 L91.25 226.30 L91.40 226.80 L91.56 227.30 L91.73 227.79 L91.91 228.28 L92.10 228.76 L92.29 229.24 L92.50 229.70 L92.72 230.16 L92.97 230.61 L93.23 231.06 L93.49 231.49 L93.76 231.92 L94.02 232.33 L94.27 232.73 L94.50 233.10 L94.71 233.45 L94.91 233.77 L95.10 234.07 L95.28 234.36 L95.46 234.64 L95.64 234.92 L95.82 235.21 L96.00 235.50 L98.99 235.50 L101.97 235.50 L104.94 235.50 L107.92 235.50 L110.90 235.50 L113.91 235.50 L116.94 235.50 L120.00 235.50 L123.10 235.50 L126.23 235.50 L129.39 235.50 L132.57 235.50 L135.76 235.50 L138.94 235.50 L142.13 235.50 L145.30 235.50" fill="none" stroke="#008000" stroke-dasharray="1.0 0.875" stroke-width="1.5"/>
<path d="M72.6 33.45 H352.0" stroke="#000" stroke-width="1.25" fill="none"/>
<path d="M73.35 33.45 V239.15 H352.8" stroke="#000" stroke-width="1.25" fill="none"/>
<path d="M352.2 33.5 V239.8" stroke="#555" stroke-width="1.8" fill="none"/>
<line x1="85.22" y1="239.2" x2="85.22" y2="236.7" stroke="#000" stroke-width="1.2"/>
<line x1="114.50" y1="239.2" x2="114.50" y2="234.7" stroke="#000" stroke-width="1.2"/>
<line x1="143.78" y1="239.2" x2="143.78" y2="236.7" stroke="#000" stroke-width="1.2"/>
<line x1="173.05" y1="239.2" x2="173.05" y2="234.7" stroke="#000" stroke-width="1.2"/>
<line x1="202.32" y1="239.2" x2="202.32" y2="236.7" stroke="#000" stroke-width="1.2"/>
<line x1="231.60" y1="239.2" x2="231.60" y2="234.7" stroke="#000" stroke-width="1.2"/>
<line x1="260.88" y1="239.2" x2="260.88" y2="236.7" stroke="#000" stroke-width="1.2"/>
<line x1="290.15" y1="239.2" x2="290.15" y2="234.7" stroke="#000" stroke-width="1.2"/>
<line x1="319.42" y1="239.2" x2="319.42" y2="236.7" stroke="#000" stroke-width="1.2"/>
<line x1="348.70" y1="239.2" x2="348.70" y2="234.7" stroke="#000" stroke-width="1.2"/>
<line x1="73.3" y1="235.70" x2="77.5" y2="235.70" stroke="#000" stroke-width="1.2"/>
<line x1="73.3" y1="210.39" x2="75.5" y2="210.39" stroke="#000" stroke-width="1.2"/>
<line x1="73.3" y1="185.07" x2="77.5" y2="185.07" stroke="#000" stroke-width="1.2"/>
<line x1="73.3" y1="159.76" x2="75.5" y2="159.76" stroke="#000" stroke-width="1.2"/>
<line x1="73.3" y1="134.45" x2="77.5" y2="134.45" stroke="#000" stroke-width="1.2"/>
<line x1="73.3" y1="109.14" x2="75.5" y2="109.14" stroke="#000" stroke-width="1.2"/>
<line x1="73.3" y1="83.83" x2="77.5" y2="83.83" stroke="#000" stroke-width="1.2"/>
<line x1="73.3" y1="58.51" x2="75.5" y2="58.51" stroke="#000" stroke-width="1.2"/>
<text x="114.5" y="254.3" font-size="12" text-anchor="middle">2</text>
<text x="173.1" y="254.3" font-size="12" text-anchor="middle">3</text>
<text x="231.6" y="254.3" font-size="12" text-anchor="middle">4</text>
<text x="290.1" y="254.3" font-size="12" text-anchor="middle">5</text>
<text x="348.7" y="254.3" font-size="12" text-anchor="middle">6</text>
<text x="68.3" y="239.6" font-size="12" text-anchor="end">0.00</text>
<text x="68.3" y="189.0" font-size="12" text-anchor="end">0.25</text>
<text x="68.3" y="138.3" font-size="12" text-anchor="end">0.50</text>
<text x="68.3" y="87.7" font-size="12" text-anchor="end">0.75</text>
<text x="68.3" y="37.1" font-size="12" text-anchor="end">1.00</text>
<text x="86.3" y="28.2" font-size="11.6" textLength="8.2" lengthAdjust="spacingAndGlyphs">ω</text>
<text x="94.8" y="31.3" font-size="7.6">c</text>
<text x="98.6" y="28.2" font-size="12" textLength="14.2" lengthAdjust="spacingAndGlyphs">(3)</text>
<text x="136.2" y="28.2" font-size="11.6" textLength="8.2" lengthAdjust="spacingAndGlyphs">ω</text>
<text x="144.7" y="31.3" font-size="7.6">c</text>
<text x="148.5" y="28.2" font-size="12" textLength="14.2" lengthAdjust="spacingAndGlyphs">(2)</text>
<text x="284.1" y="28.2" font-size="11.6" textLength="8.2" lengthAdjust="spacingAndGlyphs">ω</text>
<text x="292.6" y="31.3" font-size="7.6">c</text>
<text x="296.4" y="28.2" font-size="12" textLength="14.2" lengthAdjust="spacingAndGlyphs">(1)</text>
<text x="208" y="277.7" font-size="16.8" font-weight="bold" textLength="10.6" lengthAdjust="spacingAndGlyphs" font-family="'Liberation Serif', serif">ω</text>
<g transform="translate(32.6,159.8) rotate(-90)"><text x="0" y="0" font-size="14" transform="scale(1.25,1)">j</text><text x="3.0" y="6.5" font-size="10.4">n</text><text x="4.1" y="-6.2" font-size="8.6">re(tr)</text></g>
<rect x="353" y="33.4" width="46.4" height="163.3" fill="#fff" stroke="#777" stroke-width="1"/>
<line x1="352.5" y1="33" x2="352.5" y2="197.2" stroke="#555" stroke-width="2.2"/>
<line x1="357.7" y1="47.15" x2="381.5" y2="47.15" stroke="#ff0000" stroke-dasharray="5.1 4.2" stroke-width="1.35"/>
<text x="388.9" y="51.4" font-size="12.2" stroke="#000" stroke-width="0.25">j</text>
<text x="391.9" y="45.5" font-size="7">re</text>
<text x="391.5" y="55.6" font-size="7.6">0</text>
<line x1="357.7" y1="67.12" x2="381.5" y2="67.12" stroke="#ff00ff" stroke-dasharray="5.1 4.2" stroke-width="1.35"/>
<text x="388.9" y="71.3" font-size="12.2" stroke="#000" stroke-width="0.25">j</text>
<text x="391.9" y="65.5" font-size="7">re</text>
<text x="391.5" y="75.6" font-size="7.6">1</text>
<line x1="357.7" y1="87.09" x2="381.5" y2="87.09" stroke="#0000ff" stroke-dasharray="5.1 4.2" stroke-width="1.35"/>
<text x="388.9" y="91.3" font-size="12.2" stroke="#000" stroke-width="0.25">j</text>
<text x="391.9" y="85.5" font-size="7">re</text>
<text x="391.5" y="95.5" font-size="7.6">2</text>
<line x1="357.7" y1="107.06" x2="381.5" y2="107.06" stroke="#008000" stroke-dasharray="5.1 4.2" stroke-width="1.35"/>
<text x="388.9" y="111.3" font-size="12.2" stroke="#000" stroke-width="0.25">j</text>
<text x="391.9" y="105.5" font-size="7">re</text>
<text x="391.5" y="115.5" font-size="7.6">3</text>
<line x1="358" y1="127.03" x2="386" y2="127.03" stroke="#ff0000" stroke-width="1.4" stroke-dasharray="1.2 0.8"/>
<text x="388.9" y="131.2" font-size="12.2" stroke="#000" stroke-width="0.25">j</text>
<text x="391.9" y="125.4" font-size="7">re</text>
<text x="391.5" y="135.5" font-size="7.6">0</text>
<line x1="358" y1="147.00" x2="386" y2="147.00" stroke="#ff00ff" stroke-width="1.4" stroke-dasharray="1.2 0.8"/>
<text x="388.9" y="151.2" font-size="12.2" stroke="#000" stroke-width="0.25">j</text>
<text x="391.9" y="145.4" font-size="7">tr</text>
<text x="391.5" y="155.4" font-size="7.6">1</text>
<line x1="358" y1="166.97" x2="386" y2="166.97" stroke="#0000ff" stroke-width="1.4" stroke-dasharray="1.2 0.8"/>
<text x="388.9" y="171.2" font-size="12.2" stroke="#000" stroke-width="0.25">j</text>
<text x="391.9" y="165.4" font-size="7">tr</text>
<text x="391.5" y="175.4" font-size="7.6">2</text>
<line x1="358" y1="186.94" x2="386" y2="186.94" stroke="#008000" stroke-width="1.4" stroke-dasharray="1.2 0.8"/>
<text x="388.9" y="191.1" font-size="12.2" stroke="#000" stroke-width="0.25">j</text>
<text x="391.9" y="185.3" font-size="7">tr</text>
<text x="391.5" y="195.4" font-size="7.6">3</text>
</svg>
</body></html>
